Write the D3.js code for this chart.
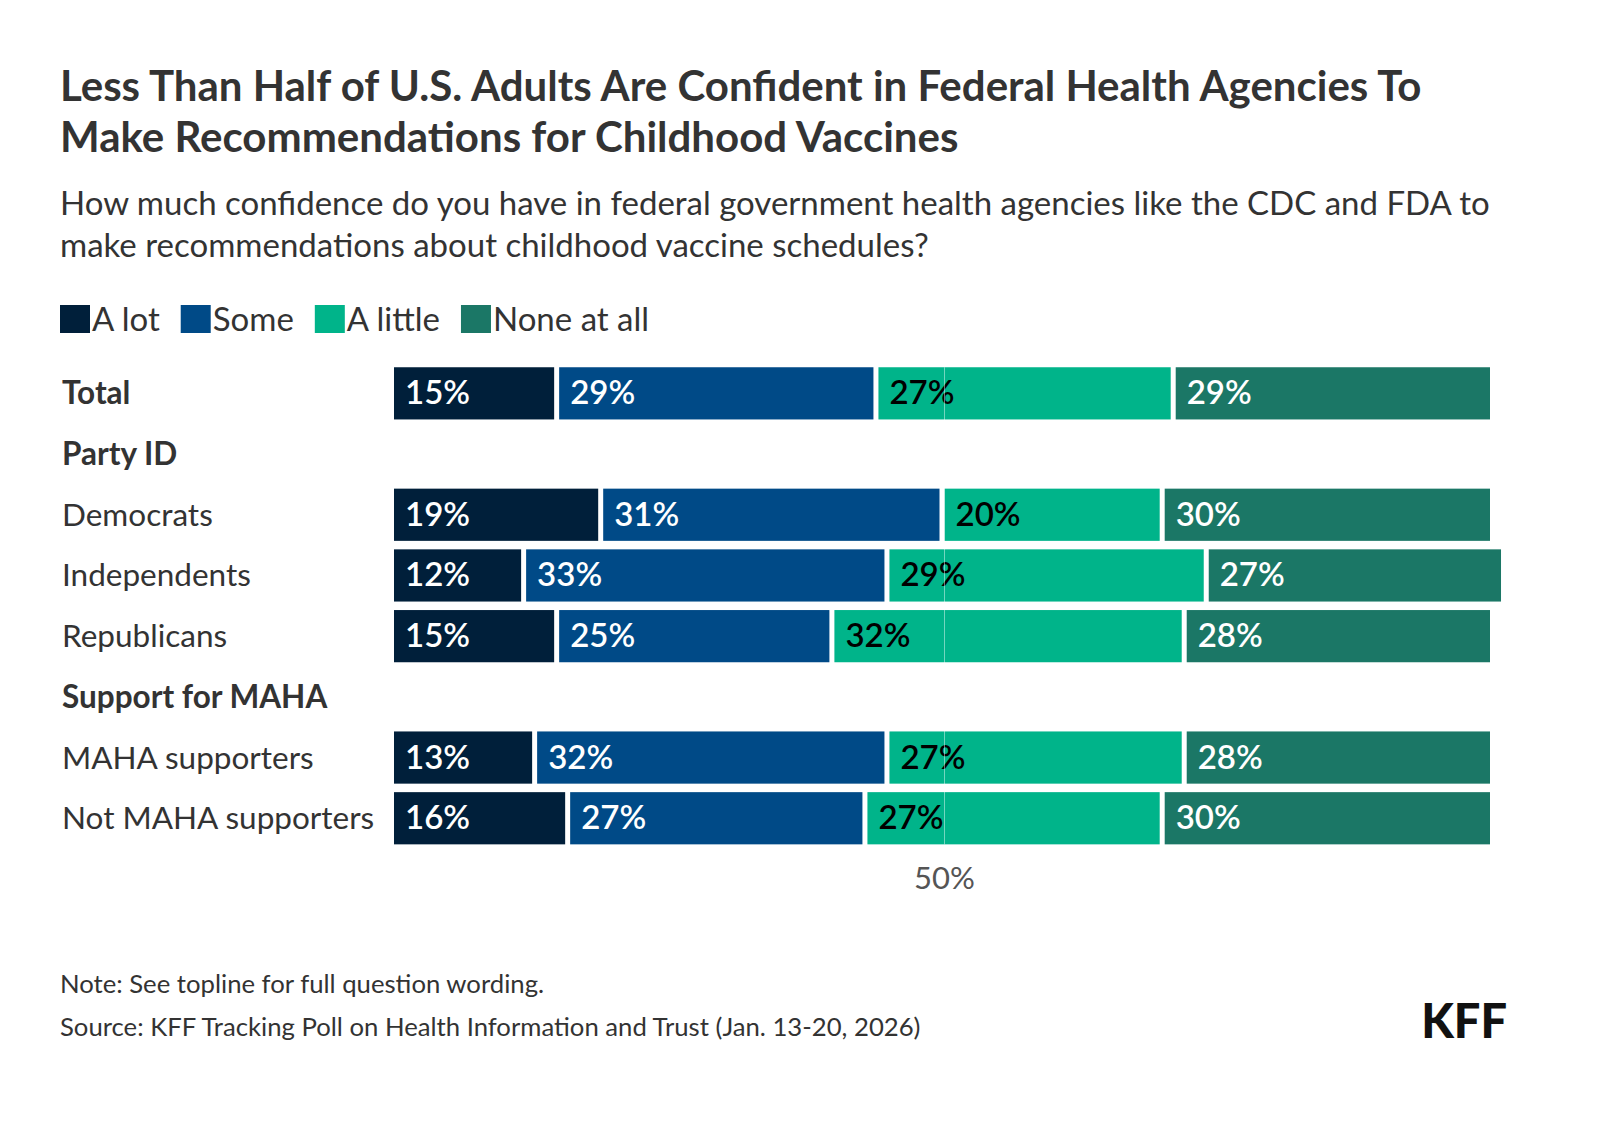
<!DOCTYPE html>
<html>
<head>
<meta charset="utf-8">
<script src="https://cdn.jsdelivr.net/npm/d3@7"></script>
<style>
  html, body { margin: 0; padding: 0; background: #fff; overflow: hidden; }
  svg { display: block; font-family: "Source Sans Pro", Lato, sans-serif; }
</style>
</head>
<body>
<div id="chart"></div>
<script>
// rows top to bottom; headers have no bar
var rows = ["Total", "Party ID", "Democrats", "Independents", "Republicans",
            "Support for MAHA", "MAHA supporters", "Not MAHA supporters"];
var boldRows = ["Total", "Party ID", "Support for MAHA"];

var series = ["A lot", "Some", "A little", "None at all"];
var colors = ["#001f3a", "#004a87", "#00b48a", "#1b7766"];
var labelColors = ["#fff", "#fff", "#000", "#fff"];

// values per bar row, in series order
var barRows = ["Total", "Democrats", "Independents", "Republicans",
               "MAHA supporters", "Not MAHA supporters"];
var aLot      = [15, 19, 12, 15, 13, 16];
var some      = [29, 31, 33, 25, 32, 27];
var aLittle   = [27, 20, 29, 32, 27, 27];
var noneAtAll = [29, 30, 27, 28, 28, 30];

var xTicks = [50];

var width = 1600, height = 1126;
var margin = {left: 394, right: 105, top: 363};

var svg = d3.select("#chart").append("svg")
    .attr("width", width)
    .attr("height", height);

// title + subtitle
var title = ["Less Than Half of U.S. Adults Are Confident in Federal Health Agencies To",
             "Make Recommendations for Childhood Vaccines"];
var subtitle = ["How much confidence do you have in federal government health agencies like the CDC and FDA to",
                "make recommendations about childhood vaccine schedules?"];

svg.selectAll(".title").data(title).enter().append("text")
    .attr("x", 60).attr("y", function(d, i) { return 101 + i * 51; })
    .style("font-size", "42px").style("font-weight", 700).style("fill", "#333")
    .text(function(d) { return d; });

svg.selectAll(".sub").data(subtitle).enter().append("text")
    .attr("x", 60).attr("y", function(d, i) { return 215 + i * 42; })
    .style("font-size", "33px").style("fill", "#333")
    .text(function(d) { return d; });

// legend
var leg = svg.append("g").attr("transform", "translate(60,305)");
var lx = 0;
series.forEach(function(s, i) {
  var g = leg.append("g").attr("transform", "translate(" + lx + ",0)");
  g.append("rect").attr("width", 30).attr("height", 28).attr("fill", colors[i]);
  var t = g.append("text").attr("x", 32).attr("y", 26)
      .style("font-size", "33px").style("fill", "#333").text(s);
  lx += 32 + t.node().getComputedTextLength() + 21;
});

// scales
var x = d3.scaleLinear().domain([0, 100]).range([margin.left, width - margin.right]);
var y = d3.scaleBand().domain(rows)
    .range([margin.top, margin.top + 8 * 60.7])
    .paddingInner(0.14).paddingOuter(0.07);

// stacked data
var table = barRows.map(function(r, i) {
  return {row: r, "A lot": aLot[i], "Some": some[i], "A little": aLittle[i], "None at all": noneAtAll[i]};
});
var stack = d3.stack().keys(series)(table);

// row labels
svg.selectAll(".rowlab").data(rows).enter().append("text")
    .attr("x", 62)
    .attr("y", function(d) { return y(d) + y.bandwidth() / 2 + 11; })
    .style("font-size", "31.5px")
    .style("font-weight", function(d) { return boldRows.indexOf(d) >= 0 ? 700 : 400; })
    .style("fill", "#333")
    .text(function(d) { return d; });

var gap = 5;
var layers = svg.selectAll(".layer").data(stack).enter().append("g")
    .attr("fill", function(d, i) { return colors[i]; });

layers.selectAll("rect").data(function(d) { return d; }).enter().append("rect")
    .attr("x", function(d) { return x(d[0]); })
    .attr("y", function(d) { return y(d.data.row); })
    .attr("width", function(d) { return x(d[1]) - x(d[0]) - gap; })
    .attr("height", y.bandwidth());

// 50% reference line
svg.append("line")
    .attr("x1", x(50)).attr("x2", x(50))
    .attr("y1", y("Total")).attr("y2", y("Not MAHA supporters") + y.bandwidth())
    .attr("stroke", "#ffffff").attr("stroke-opacity", 0.45).attr("stroke-width", 1);

layers.each(function(layer, li) {
  d3.select(this).selectAll("text").data(layer).enter().append("text")
      .attr("x", function(d) { return x(d[0]) + 11; })
      .attr("y", function(d) { return y(d.data.row) + y.bandwidth() / 2 + 11; })
      .style("font-size", "33px").style("font-weight", 600)
      .attr("fill", labelColors[li])
      .text(function(d) { return (d[1] - d[0]) + "%"; });
});

// axis tick
svg.selectAll(".tick50").data(xTicks).enter().append("text")
    .attr("x", function(d) { return x(d); }).attr("y", 889)
    .attr("text-anchor", "middle")
    .style("font-size", "31px").style("fill", "#555")
    .text(function(d) { return d + "%"; });

// notes
svg.append("text").attr("x", 60).attr("y", 993)
    .style("font-size", "25.7px").style("fill", "#333")
    .text("Note: See topline for full question wording.");
svg.append("text").attr("x", 60).attr("y", 1036)
    .style("font-size", "25.7px").style("fill", "#333")
    .text("Source: KFF Tracking Poll on Health Information and Trust (Jan. 13-20, 2026)");

svg.append("text").attr("x", 1507).attr("y", 1038)
    .attr("text-anchor", "end")
    .style("font-size", "47px").style("font-weight", 900).style("fill", "#111")
    .text("KFF");
</script>
</body>
</html>
